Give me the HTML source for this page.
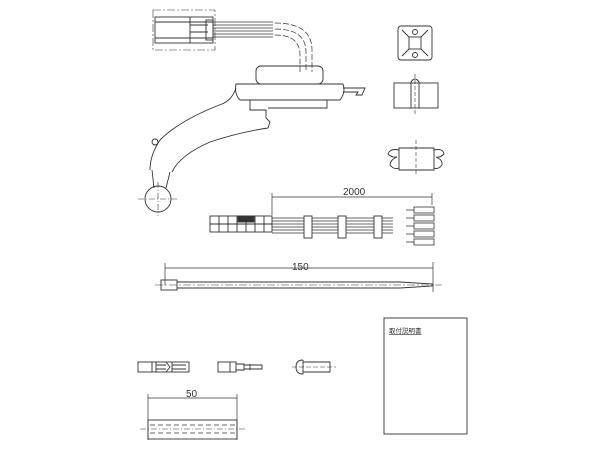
<!DOCTYPE html>
<html><head><style>body{margin:0;background:#fff}svg{display:block}</style></head><body>
<svg width="600" height="450" viewBox="0 0 600 450" xmlns="http://www.w3.org/2000/svg" fill="none" stroke="#333" stroke-width="0.9" font-family="Liberation Sans, sans-serif">
<!-- connector -->
<rect x="153" y="10" width="62" height="40" stroke-dasharray="8,2,2,2" stroke-width="0.6"/>
<rect x="155" y="17" width="58" height="26"/>
<line x1="155" y1="22" x2="213" y2="22"/><line x1="155" y1="38" x2="213" y2="38"/>
<line x1="190" y1="17" x2="190" y2="43"/>
<line x1="190" y1="25" x2="208" y2="25"/><line x1="190" y1="32" x2="208" y2="32"/>
<rect x="206" y="20" width="7" height="20"/>
<g stroke-width="0.7">
<path d="M213 22 H273"/><path d="M213 25 H273"/>
<path d="M213 28 H273"/><path d="M213 31 H273"/>
<path d="M213 34 H273"/><path d="M213 37 H273"/>
</g>
<g stroke-dasharray="6,2" stroke-width="0.7">
<path d="M275 23 Q312 23 312 50 V72"/>
<path d="M275 29 Q306 29 306 52 V72"/>
<path d="M275 35 Q300 35 300 55 V72"/>
</g>
<!-- cap -->
<rect x="256" y="66" width="67" height="18" rx="5"/>
<path d="M236 84 H343 Q346 92 340 100 H240 Q234 94 236 84Z"/>
<path d="M343 88 H365 L362 95 H356 L358 92 H343"/>
<path d="M240 100 H327 V108 H268"/>
<path d="M250 100 V110 H266 V118 L270 122 L268 128"/>
<!-- arm -->
<path d="M236 88 Q232 100 222 104 Q180 120 160 140 Q150 155 150 170"/>
<path d="M268 128 Q240 132 210 142 Q180 155 172 172"/>
<circle cx="155" cy="142" r="3"/>
<path d="M152 170 L154 188 M170 172 L166 188"/>
<circle cx="158" cy="199" r="13"/>
<path d="M138 199 H178 M158 182 V216" stroke-dasharray="6,2,1,2" stroke-width="0.6"/>
<!-- right column -->
<rect x="398" y="26" width="34" height="34" rx="3"/>
<rect x="409" y="37" width="12" height="12"/>
<path d="M409 37 L402 30 M421 37 L428 30 M409 49 L402 56 M421 49 L428 56"/>
<circle cx="415" cy="32" r="2.5"/><circle cx="415" cy="55" r="2.5"/>
<rect x="394" y="83" width="44" height="25"/>
<path d="M411 108 V82 Q415 76 419 82 V108"/>
<line x1="415" y1="74" x2="415" y2="114" stroke-dasharray="4,2" stroke-width="0.6"/>
<path d="M399 148 H434 V170 H399 Z"/>
<path d="M399 150 Q390 148 388 154 Q392 158 397 157 Q390 160 390 165 Q394 170 399 168"/>
<path d="M434 150 Q443 148 444 154 Q440 158 436 157 Q443 160 442 165 Q438 170 434 168"/>
<line x1="416" y1="140" x2="416" y2="176" stroke-dasharray="4,2" stroke-width="0.6"/>
<!-- harness -->
<line x1="272" y1="197" x2="432" y2="197" stroke-width="0.7"/>
<line x1="272" y1="193" x2="272" y2="215" stroke-width="0.7"/><line x1="432" y1="193" x2="432" y2="205" stroke-width="0.7"/>
<text x="343" y="195" font-size="10" fill="#333" stroke="none">2000</text>
<rect x="210" y="216" width="62" height="16"/>
<line x1="210" y1="224" x2="272" y2="224"/>
<g><line x1="219" y1="216" x2="219" y2="232"/><line x1="228" y1="216" x2="228" y2="232"/><line x1="237" y1="216" x2="237" y2="232"/><line x1="246" y1="216" x2="246" y2="232"/><line x1="255" y1="216" x2="255" y2="232"/><line x1="264" y1="216" x2="264" y2="232"/></g>
<rect x="238" y="216" width="16" height="6" fill="#333"/>
<g stroke-width="0.7"><path d="M272 218H393M272 221H393M272 224H393M272 227H393M272 230H393M272 233H393"/></g>
<rect x="304" y="216" width="8" height="22" fill="#fff"/><rect x="338" y="216" width="8" height="22" fill="#fff"/><rect x="374" y="216" width="8" height="22" fill="#fff"/>
<g stroke-width="0.8">
<rect x="414" y="207" width="20" height="6"/><rect x="414" y="215" width="20" height="6"/><rect x="414" y="223" width="20" height="6"/><rect x="414" y="231" width="20" height="6"/><rect x="414" y="239" width="20" height="6"/>
<path d="M406 210H414M406 218H414M406 226H414M406 234H414M406 242H414"/>
</g>
<!-- tie -->
<line x1="165" y1="268" x2="433" y2="268" stroke-width="0.7"/>
<line x1="165" y1="263" x2="165" y2="285" stroke-width="0.7"/><line x1="433" y1="262" x2="433" y2="292" stroke-width="0.7"/>
<text x="292" y="270" font-size="10" fill="#333" stroke="none">150</text>
<rect x="161" y="280" width="16" height="10"/>
<path d="M177 282 H400 L433 284 L433 286 L400 288 H177"/>
<line x1="155" y1="285" x2="442" y2="285" stroke-dasharray="8,2,2,2" stroke-width="0.5"/>
<!-- small parts -->
<rect x="138" y="362" width="51" height="10"/>
<path d="M152 362 V372 M156 362 V372 M156 365 H166 M156 369 H166 M166 362 L170 367 L166 372 M172 362 V372 M172 365 H186 M172 369 H186"/>
<rect x="218" y="362" width="18" height="10"/>
<path d="M230 362V372 M236 364 H244 V370 H236 M244 365 H262 V369 H244 M250 364V370"/>
<path d="M303 360 Q296 360 296 367 Q296 374 303 374 V360 M303 362 H330 V372 H303"/>
<line x1="292" y1="367" x2="336" y2="367" stroke-dasharray="5,2" stroke-width="0.6"/>
<!-- tube -->
<line x1="148" y1="398" x2="237" y2="398" stroke-width="0.7"/>
<line x1="148" y1="394" x2="148" y2="440" stroke-width="0.7"/><line x1="237" y1="394" x2="237" y2="440" stroke-width="0.7"/>
<text x="186" y="397" font-size="10" fill="#333" stroke="none">50</text>
<rect x="148" y="420" width="89" height="19"/>
<path d="M150 425 H235 M150 433 H235" stroke-dasharray="5,3" stroke-width="0.7"/>
<line x1="140" y1="429" x2="245" y2="429" stroke-dasharray="6,2,1,2" stroke-width="0.5"/>
<!-- manual -->
<rect x="384" y="318" width="83" height="116"/>
<text x="389" y="333" font-size="6.5" fill="#333" stroke="none" font-family="Liberation Sans, Noto Sans CJK JP, sans-serif" text-decoration="underline">取付説明書</text>
</svg>
</body></html>
